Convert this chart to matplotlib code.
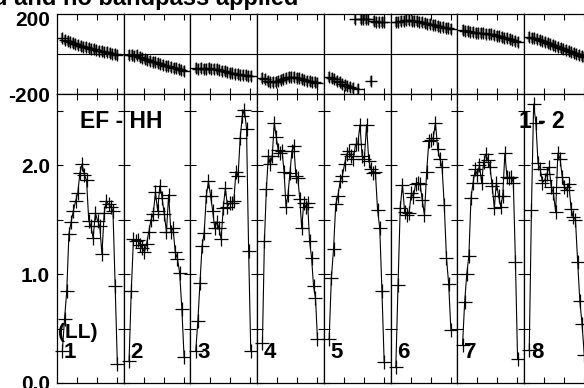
import matplotlib
matplotlib.use("Agg")
import matplotlib.pyplot as plt
import numpy as np

plt.rcParams['font.family'] = ['Liberation Sans', 'DejaVu Sans']
plt.rcParams['font.weight'] = 'bold'

# ---- data ----
band_names = ['1', '2', '3', '4', '5', '6', '7', '8']

amp_b1 = [0.29, 0.59, 0.84, 1.37, 1.48, 1.58, 1.67, 1.74, 1.93, 2.01, 1.91, 1.86, 1.49,
          1.44, 1.33, 1.56, 1.49, 1.44, 1.18, 1.56, 1.67, 1.64, 1.62, 1.58, 0.89, 0.17]
amp_b2 = [0.20, 0.84, 1.32, 1.30, 1.31, 1.27, 1.24, 1.20, 1.28, 1.39, 1.50, 1.55, 1.75,
          1.58, 1.81, 1.70, 1.55, 1.39, 1.73, 1.39, 1.42, 1.20, 1.14, 1.01, 0.68, 0.24]
amp_b3 = [0.29, 0.57, 0.92, 1.26, 1.38, 1.72, 1.85, 1.72, 1.58, 1.42, 1.48, 1.42, 1.32,
          1.61, 1.79, 1.62, 1.65, 1.65, 1.67, 1.94, 1.90, 2.25, 2.45, 2.51, 2.33, 1.21, 0.29]
amp_b4 = [0.37, 1.30, 1.78, 2.08, 2.01, 2.08, 2.39, 2.26, 2.14, 2.11, 2.13, 1.94, 1.62,
          1.73, 1.93, 2.13, 2.18, 1.90, 1.88, 1.69, 1.42, 1.65, 1.62, 1.65, 1.30, 1.15,
          0.89, 0.78, 0.40]
amp_b5 = [0.40, 0.96, 1.23, 1.64, 1.72, 1.85, 1.90, 2.01, 2.10, 2.13, 2.08, 2.06, 2.19,
          2.19, 2.37, 2.08, 2.06, 2.37, 2.04, 1.96, 1.93, 1.94, 1.59, 1.42, 0.84, 0.19]
amp_b6 = [0.15, 0.90, 1.61, 1.82, 1.57, 1.54, 1.56, 1.74, 1.71, 1.83, 1.84, 1.83, 1.68,
          1.54, 1.94, 2.22, 2.23, 2.25, 2.39, 2.15, 2.06, 1.98, 1.63, 1.15, 0.91, 0.49]
amp_b7 = [0.35, 0.74, 1.00, 1.17, 1.70, 1.84, 1.96, 1.91, 2.00, 1.84, 2.03, 2.10, 2.05,
          1.98, 1.81, 1.61, 1.84, 1.72, 1.62, 1.72, 2.11, 1.89, 1.88, 1.89, 1.84, 1.11, 0.22]
amp_b8 = [0.30, 1.59, 2.56, 2.39, 2.02, 1.96, 1.84, 1.86, 1.92, 1.98, 1.80, 1.74, 1.57,
          2.11, 2.06, 1.89, 1.80, 1.77, 1.83, 1.60, 1.52, 1.50, 1.11, 0.75, 0.54, 0.26]

ph_b1 = [80, 72, 66, 60, 55, 50, 46, 42, 38, 35, 31, 28, 25, 22, 19, 16, 13, 10, 7, 4, 1, -2]
ph_b2 = [-2, -5, -8, -4, -12, -18, -22, -28, -32, -37, -40, -45, -48, -52, -56, -60,
         -63, -66, -70, -74, -78, -82]
ph_b3 = [-70, -72, -70, -73, -72, -70, -74, -72, -75, -78, -82, -85, -88, -92, -95, -97,
         -100, -102, -104, -105, -106, -107]
ph_b4 = [-118, -125, -132, -138, -140, -138, -135, -130, -125, -118, -115, -114, -115,
         -117, -120, -124, -128, -131, -134, -137, -140, -143]
ph_b5 = [-113, -118, -125, -132, -140, -148, -155, -160, -165, -170, 178, -174, 177, 178,
         176, 175, -135, 165, 163, 162, 160, 160]
ph_b6 = [160, 163, 166, 168, 170, 170, 169, 168, 166, 163, 160, 157, 154, 151, 148, 145,
         142, 139, 136, 133, 130, 128]
ph_b7 = [122, 118, 115, 112, 110, 108, 107, 106, 105, 104, 102, 100, 97, 94, 91, 88, 84,
         80, 76, 72, 67, 62]
ph_b8 = [88, 84, 80, 75, 70, 65, 60, 55, 50, 45, 40, 35, 30, 26, 22, 18, 12, 8, 3, -2, -8, -13]
ph_err = 25

amps = [amp_b1, amp_b2, amp_b3, amp_b4, amp_b5, amp_b6, amp_b7, amp_b8]
phases = [ph_b1, ph_b2, ph_b3, ph_b4, ph_b5, ph_b6, ph_b7, ph_b8]

# ---- layout (pixels) ----
W, H = 584, 388
x0, bw = 57, 66.7
fs = 15

fig = plt.figure(figsize=(W / 100, H / 100), dpi=100)

for i in range(8):
    left = (x0 + i * bw) / W
    axp = fig.add_axes([left, 1 - 94.3 / H, bw / W, 80 / H])
    axa = fig.add_axes([left, 1 - 383 / H, bw / W, (383 - 94.3) / H])

    # phase panel
    p = phases[i]
    xp = np.linspace(0.08, 0.905, len(p))
    axp.errorbar(xp, p, yerr=ph_err, fmt='none', ecolor='#7a7a7a', elinewidth=1.7, capsize=0)
    axp.plot(xp, p, '+', color='k', ms=9, mew=1.0)
    axp.axhline(0, color='k', lw=0.8)
    axp.set_xlim(0, 1)
    axp.set_ylim(-200, 200)

    # amplitude panel
    a = amps[i]
    xa = np.linspace(0.08, 0.905, len(a))
    axa.plot(xa, a, '-', color='k', lw=0.8, marker='+', ms=10, mew=0.9, clip_on=False)
    axa.set_xlim(0, 1)
    axa.set_ylim(0, 2.65)

    for ax in (axp, axa):
        ax.set_xticks([0.3, 0.6, 0.9])
        ax.set_xticklabels([])
        ax.tick_params(direction='in', length=4, width=0.8, top=True, bottom=True,
                       left=True, right=True, labelsize=fs, pad=5)
        for s in ax.spines.values():
            s.set_linewidth(0.9)

    # phase labels sit a little below the top edge, as in the original
    axp.set_yticks([-200, 180])
    axp.tick_params(axis='y', length=0)
    axa.set_yticks([0, 0.5, 1.0, 1.5, 2.0, 2.5])
    if i == 0:
        axp.set_yticklabels(['-200', '200'], fontweight='bold')
        axa.set_yticklabels(['0.0', '', '1.0', '', '2.0', ''], fontweight='bold')
    else:
        axp.set_yticklabels([])
        axa.set_yticklabels([])

    fig.text((x0 + i * bw + 7) / W, 1 - 353 / H, band_names[i], fontsize=16,
             fontweight='bold', va='center', ha='left')

fig.text(80 / W, 1 - 122 / H, 'EF - HH', fontsize=16.5, fontweight='bold', va='center')
fig.text(519 / W, 1 - 122 / H, '1 - 2', fontsize=16.5, fontweight='bold', va='center')
fig.text(58 / W, 1 - 332 / H, '(LL)', fontsize=fs, fontweight='bold', va='center')
fig.text(298 / W, 1 - 5.5 / H, 'Calibrated and no bandpass applied', fontsize=17,
         fontweight='bold', ha='right', va='baseline')

fig.savefig('out.png', dpi=100)
